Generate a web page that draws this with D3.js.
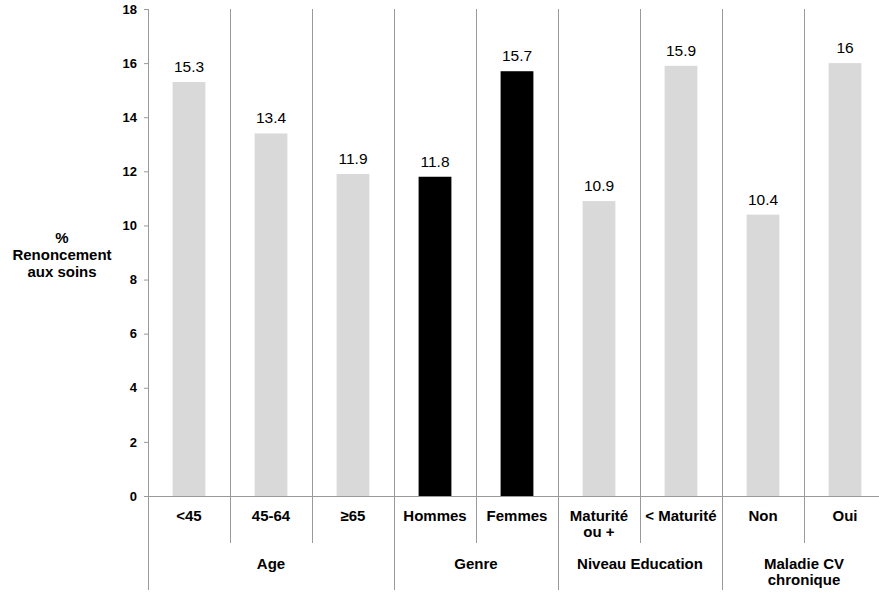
<!DOCTYPE html>
<html>
<head>
<meta charset="utf-8">
<script src="https://cdn.jsdelivr.net/npm/d3@7"></script>
<style>
  html, body { margin: 0; padding: 0; background: #fff; }
  svg { display: block; font-family: "Liberation Sans", Arial, sans-serif; }
</style>
</head>
<body>
<svg id="chart" width="879" height="596"></svg>
<script>
const categories = ["<45", "45-64", "≥65", "Hommes", "Femmes", "Maturité\nou +", "< Maturité", "Non", "Oui"];
const values = [15.3, 13.4, 11.9, 11.8, 15.7, 10.9, 15.9, 10.4, 16];
const highlighted = [false, false, false, true, true, false, false, false, false];
const groups = ["Age", "Genre", "Niveau Education", "Maladie CV\nchronique"];
const groupSizes = [3, 2, 2, 2];
const yTicks = [0, 2, 4, 6, 8, 10, 12, 14, 16, 18];
const yTitle = ["%", "Renoncement", "aux soins"];

const svg = d3.select("#chart");
const x0 = 148, x1 = 886, yTop = 9, yBottom = 496;
const lineColor = "#9a9a9a";

const x = d3.scaleBand().domain(d3.range(categories.length)).range([x0, x1])
  .paddingInner(0.6).paddingOuter(0.3);
const y = d3.scaleLinear().domain([0, 18]).range([yBottom, yTop]);
const step = x.step();

// y axis
const yAxis = d3.axisLeft(y).tickValues(yTicks).tickSize(4).tickPadding(7);
const gy = svg.append("g").attr("transform", `translate(${x0},0)`).call(yAxis);
gy.select(".domain").remove();
gy.selectAll(".tick line").attr("stroke", lineColor);
gy.selectAll(".tick text").attr("font-size", 13).attr("font-weight", "bold").attr("fill", "#000")
  .attr("font-family", "Liberation Sans, Arial, sans-serif");

// y title
svg.append("text").attr("x", 62).attr("y", 243).attr("text-anchor", "middle")
  .attr("font-size", 15).attr("font-weight", "bold")
  .selectAll("tspan").data(yTitle).join("tspan")
  .attr("x", 62).attr("dy", (d, i) => i === 0 ? 0 : 17).text(d => d);

// separators
let groupBounds = [0];
groupSizes.reduce((a, s) => { groupBounds.push(a + s); return a + s; }, 0);
for (let b = 0; b <= categories.length; b++) {
  const xp = Math.round(x0 + b * step) + 0.5;
  const isGroup = groupBounds.includes(b);
  svg.append("line").attr("x1", xp).attr("x2", xp)
    .attr("y1", yTop).attr("y2", isGroup ? 590 : 543)
    .attr("stroke", lineColor).attr("stroke-width", 1);
}
// x baseline
svg.append("line").attr("x1", x0).attr("x2", x1).attr("y1", yBottom + 0.5).attr("y2", yBottom + 0.5)
  .attr("stroke", lineColor);

// bars
svg.append("g").selectAll("rect").data(values).join("rect")
  .attr("x", (d, i) => x(i)).attr("width", x.bandwidth())
  .attr("y", d => y(d)).attr("height", d => yBottom - y(d))
  .attr("fill", (d, i) => highlighted[i] ? "#000000" : "#d9d9d9");

// value labels
svg.append("g").selectAll("text").data(values).join("text")
  .attr("x", (d, i) => x(i) + x.bandwidth() / 2).attr("y", d => y(d) - 10)
  .attr("text-anchor", "middle").attr("font-size", 15.5).attr("fill", "#000")
  .text(d => d);

// category labels
categories.forEach((c, i) => {
  const t = svg.append("text").attr("x", x(i) + x.bandwidth() / 2).attr("y", 521)
    .attr("text-anchor", "middle").attr("font-size", 15).attr("font-weight", "bold");
  c.split("\n").forEach((line, j) => {
    t.append("tspan").attr("x", x(i) + x.bandwidth() / 2).attr("dy", j === 0 ? 0 : 16).text(line);
  });
});

// group labels
groups.forEach((g, k) => {
  const cx = x0 + (groupBounds[k] + groupBounds[k + 1]) / 2 * step;
  const t = svg.append("text").attr("x", cx).attr("y", 569)
    .attr("text-anchor", "middle").attr("font-size", 15).attr("font-weight", "bold");
  g.split("\n").forEach((line, j) => {
    t.append("tspan").attr("x", cx).attr("dy", j === 0 ? 0 : 16).text(line);
  });
});
</script>
</body>
</html>
